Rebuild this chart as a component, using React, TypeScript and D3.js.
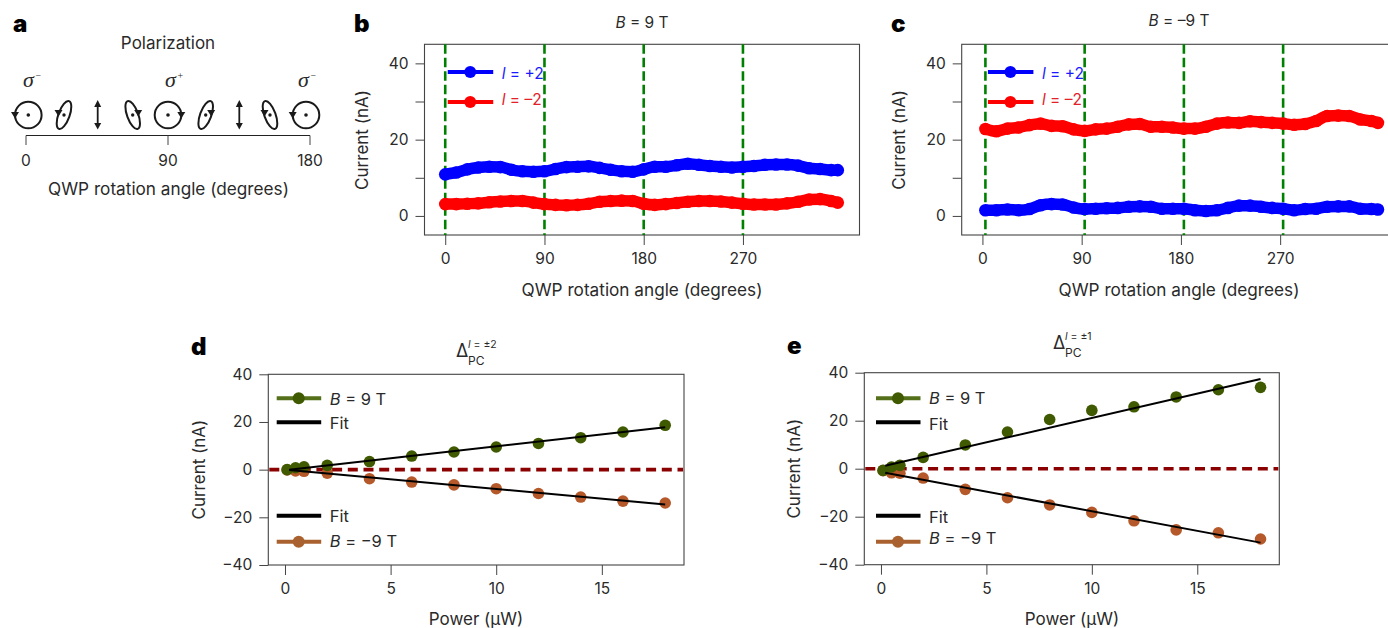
import React, { useEffect, useRef } from "react";
import * as d3 from "d3";

const FONT = "Inter, 'Noto Sans', sans-serif";
const INK = "#2a2a2a";

// Panels b, c: QWP sweep, read every 10 degrees from the picture
const sweepAngles = [0,10,20,30,40,50,60,70,80,90,100,110,120,130,140,150,160,170,180,190,200,210,220,230,240,250,260,270,280,290,300,310,320,330,340,350,356];
const bPlus = [10.9,11.4,12.2,12.7,12.9,12.8,12.1,11.7,11.6,11.7,12.3,12.8,12.9,13.0,12.6,12.1,11.7,11.6,12.2,12.9,12.9,13.3,13.7,13.4,13.1,12.9,12.7,12.9,13.1,13.4,13.5,13.5,13.2,12.5,12.3,12.0,12.0];
const bMinus = [3.1,3.1,3.2,3.3,3.6,3.8,3.9,3.9,3.5,3.1,2.9,2.8,2.9,3.2,3.7,3.9,4.0,3.9,3.2,2.9,3.1,3.4,3.7,3.9,3.9,3.8,3.5,3.2,3.0,3.0,3.0,3.3,3.7,4.3,4.4,3.9,3.5];
const cPlus = [1.5,1.5,1.7,1.5,1.8,2.8,3.1,3.0,2.2,1.8,1.9,2.0,2.1,2.4,2.5,2.4,1.9,1.9,1.9,1.5,1.3,1.5,2.1,2.7,2.7,2.4,2.1,1.9,1.5,1.8,1.9,2.4,2.5,2.5,1.9,1.8,1.7];
const cMinus = [22.8,22.2,22.9,23.2,23.8,24.2,23.6,23.5,22.7,22.3,22.7,22.9,23.4,24.0,24.1,23.4,23.4,23.2,22.9,22.9,23.4,24.2,24.5,24.4,24.8,24.6,24.4,24.2,23.9,24.1,24.9,26.2,26.3,26.2,25.3,24.9,24.4];
const angleTicks = [0, 90, 180, 270];
const sweepCurrentTicks = [0, 10, 20, 30, 40];
const sweepCurrentLabels = [0, 20, 40];
const bGuides = [0, 90, 180, 270];
const cGuides = [2.7, 92.7, 182.7, 272.7];

// Panels d, e: power dependence
const powers = [0.1,0.5,0.9,2,4,6,8,10,12,14,16,18];
const dUp = [0,0.8,1.2,1.8,3.4,5.7,7.4,9.5,11,13.4,15.8,18.6];
const dDown = [-0.1,-0.5,-0.7,-1.5,-3.8,-5.2,-6.4,-8,-10,-11.5,-13.2,-14];
const eUp = [-0.7,0.7,1.4,4.7,9.9,15.3,20.5,24.3,25.8,29.9,32.9,33.9];
const eDown = [-0.8,-1.7,-1.9,-3.9,-8.6,-12.1,-15.1,-18.2,-21.7,-25.5,-26.7,-29.3];
const fitPowers = [0.2, 18];
const dFitUp = [0, 17.8];
const dFitDown = [-0.1, -14.6];
const eFitUp = [1.2, 37.4];
const eFitDown = [-1.7, -30.8];
const powerTicks = [0, 5, 10, 15];
const powerCurrentTicks = [-40, -20, 0, 20, 40];

// Panel a
const polarAxisTicks = [0, 90, 180];
const polarIcons = [
  { x: 28.3, kind: "circle", side: -1 },
  { x: 64, kind: "ellipse", tilt: 20, side: -1 },
  { x: 97.7, kind: "linear" },
  { x: 132.7, kind: "ellipse", tilt: -20, side: 1 },
  { x: 168, kind: "circle", side: 1 },
  { x: 205.7, kind: "ellipse", tilt: 20, side: 1 },
  { x: 239.3, kind: "linear" },
  { x: 270, kind: "ellipse", tilt: -20, side: -1 },
  { x: 306, kind: "circle", side: -1 },
];
const sigmaLabels = [
  { x: 23, sup: "−" },
  { x: 165, sup: "+" },
  { x: 298, sup: "−" },
];

const BLUE = "#0000ff", RED = "#ff0000", GUIDE = "#008000", ZERO = "#8b0000";
const OLIVE = "#3f5a00", OLIVE_L = "#55701a", BROWN = "#b5592a", BROWN_L = "#a9622f";

type Sel = d3.Selection<any, any, any, any>;

function txt(g: Sel, x: number, y: number, s: string, size = 15, anchor = "middle", fill = INK) {
  return g.append("text").attr("x", x).attr("y", y).attr("font-family", FONT).attr("font-size", size)
    .attr("text-anchor", anchor).attr("fill", fill).text(s);
}
function rich(g: Sel, x: number, y: number, ital: string, rest: string, size = 15, anchor = "start", fill = INK) {
  const t = g.append("text").attr("x", x).attr("y", y).attr("font-family", FONT).attr("font-size", size)
    .attr("text-anchor", anchor).attr("fill", fill);
  t.append("tspan").attr("font-style", "italic").text(ital);
  t.append("tspan").text(rest);
  return t;
}
function frame(g: Sel, l: number, t: number, r: number, b: number) {
  g.append("rect").attr("x", l).attr("y", t).attr("width", r - l).attr("height", b - t)
    .attr("fill", "none").attr("stroke", "#444").attr("stroke-width", 1.1);
}
function axes(g: Sel, x: any, y: any, xt: number[], yt: number[], yLabels: number[], bottom: number, left: number) {
  const xa = d3.axisBottom(x).tickValues(xt).tickSize(10).tickPadding(8).tickFormat(d3.format("d") as any);
  const ya = d3.axisLeft(y).tickValues(yt).tickSize(9).tickPadding(7)
    .tickFormat((d: any) => (yLabels.includes(d) ? String(d).replace("-", "−") : ""));
  for (const [a, tr] of [[xa, `translate(0,${bottom})`], [ya, `translate(${left},0)`]] as any) {
    const ag = g.append("g").attr("transform", tr).call(a);
    ag.select(".domain").remove();
    ag.selectAll("line").attr("stroke", "#444").attr("stroke-width", 1);
    ag.selectAll("text").attr("font-family", FONT).attr("font-size", 15.5).attr("fill", INK);
  }
}
function legendLine(g: Sel, x0: number, x1: number, y: number, color: string, mx?: number, mColor?: string) {
  g.append("line").attr("x1", x0).attr("x2", x1).attr("y1", y).attr("y2", y).attr("stroke", color).attr("stroke-width", 4);
  if (mx !== undefined) g.append("circle").attr("cx", mx).attr("cy", y).attr("r", 6).attr("fill", mColor || color);
}

function sweepPanel(svg: Sel, o: any) {
  const g = svg.append("g");
  const x = d3.scaleLinear().domain([-18.8, 375.7]).range([o.left, o.left + 435]);
  const y = d3.scaleLinear().domain([-5, 45]).range([235, 44.3]);
  const dataX = (d: number) => x(d + o.offset);
  frame(g, o.left, 44.3, o.left + 435, 235);
  axes(g, x, y, angleTicks, sweepCurrentTicks, sweepCurrentLabels, 235, o.left);
  o.guides.forEach((a: number) => {
    g.append("line").attr("x1", x(a)).attr("x2", x(a)).attr("y1", 44.3).attr("y2", 235)
      .attr("stroke", GUIDE).attr("stroke-width", 2.6).attr("stroke-dasharray", "9.5,4");
  });
  const line = d3.line<number>().x((_, i) => dataX(sweepAngles[i])).y((v) => y(v)).curve(d3.curveMonotoneX);
  [[o.plus, BLUE], [o.minus, RED]].forEach(([vals, c]: any) => {
    g.append("path").attr("d", line(vals)).attr("fill", "none").attr("stroke", c).attr("stroke-width", 11.5);
    g.selectAll(null).data(vals).enter().append("circle")
      .attr("cx", (_: any, i: number) => dataX(sweepAngles[i])).attr("cy", (v: any) => y(v)).attr("r", 6.3).attr("fill", c);
  });
  const lx = x(o.guides[0]);
  legendLine(g, lx + 2.5, lx + 48, 72, BLUE, lx + 25, BLUE);
  legendLine(g, lx + 2.5, lx + 48, 102, RED, lx + 25, RED);
  rich(g, lx + 56.5, 78.5, "l", " = +2", 15.5, "start", "#1a1aff");
  rich(g, lx + 56.5, 105, "l", " = –2", 15.5, "start", "#e3202a");
  txt(g, o.cx, 296, "QWP rotation angle (degrees)", 17.2);
  txt(g, o.left - 62, 140, "Current (nA)", 17).attr("transform", `rotate(-90 ${o.left - 62} 140) translate(0,5.5)`);
  rich(g, o.cx, o.titleY, "B", o.title, 15.5, "middle");
}

function powerPanel(svg: Sel, o: any) {
  const g = svg.append("g");
  const x = d3.scaleLinear().domain([-0.79, 18.89]).range([o.left, o.right]);
  const y = d3.scaleLinear().domain([-40, 40]).range([o.bottom, o.top]);
  frame(g, o.left, o.top, o.right, o.bottom);
  axes(g, x, y, powerTicks, powerCurrentTicks, powerCurrentTicks, o.bottom, o.left);
  g.append("line").attr("x1", o.left + 1).attr("x2", o.right - 1).attr("y1", y(0)).attr("y2", y(0))
    .attr("stroke", ZERO).attr("stroke-width", 3.6).attr("stroke-dasharray", "10,5.7");
  [[o.down, BROWN], [o.up, OLIVE]].forEach(([vals, c]: any) => {
    g.selectAll(null).data(vals).enter().append("circle")
      .attr("cx", (_: any, i: number) => x(powers[i])).attr("cy", (v: any) => y(v)).attr("r", 5.8).attr("fill", c);
  });
  const fit = d3.line<number>().x((_, i) => x(fitPowers[i])).y((v) => y(v));
  [o.fitUp, o.fitDown].forEach((vals: number[]) => {
    g.append("path").attr("d", fit(vals)).attr("fill", "none").attr("stroke", "#000").attr("stroke-width", 2);
  });
  const a = o.lx, b = a + 44.5, m = a + 22;
  const tx = a + 53;
  legendLine(g, a, b, 398.3, OLIVE_L, m, OLIVE);
  legendLine(g, a, b, 422.3, "#000");
  legendLine(g, a, b, 515.7, "#000");
  legendLine(g, a, b, 541.8, BROWN_L, m, BROWN_L);
  rich(g, tx, o.t1, "B", " = 9 T", 16.5);
  txt(g, tx, o.t2, "Fit", 16.5, "start");
  txt(g, tx, o.t3, "Fit", 16.5, "start");
  rich(g, tx, o.t4, "B", " = −9 T", 16.5);
  txt(g, o.cx, 625, "Power (µW)", 17);
  const ly = (o.top + o.bottom) / 2;
  txt(g, o.yLabelX, ly, "Current (nA)", 17).attr("transform", `rotate(-90 ${o.yLabelX} ${ly}) translate(0,5.5)`);
  txt(g, o.dx, o.dy, "Δ", 18, "start");
  rich(g, o.dx + 12, o.dy - 9, "l", o.sup, 10.5);
  txt(g, o.dx + 12, o.dy + 8, "PC", 12, "start");
}

function polarPanel(svg: Sel) {
  const g = svg.append("g");
  const x = d3.scaleLinear().domain([0, 180]).range([26, 310]);
  g.append("line").attr("x1", x(0)).attr("x2", x(180)).attr("y1", 135.5).attr("y2", 135.5).attr("stroke", "#222").attr("stroke-width", 1);
  polarAxisTicks.forEach((t) => {
    g.append("line").attr("x1", x(t)).attr("x2", x(t)).attr("y1", 135.5).attr("y2", 145).attr("stroke", "#444").attr("stroke-width", 1);
    txt(g, x(t), 165.5, String(t), 15.5);
  });
  txt(g, 168, 49, "Polarization", 17);
  txt(g, 168.5, 195, "QWP rotation angle (degrees)", 17.2);
  sigmaLabels.forEach((s) => {
    g.append("text").attr("x", s.x).attr("y", 87).attr("font-family", "'Liberation Serif', serif").attr("font-style", "italic")
      .attr("font-size", 22).attr("fill", INK).text("σ");
    g.append("text").attr("x", s.x + 12.5).attr("y", 79).attr("font-family", "'Liberation Serif', serif")
      .attr("font-size", 10).attr("fill", INK).text(s.sup);
  });
  const cy = 115;
  const head = (px: number, py: number) => g.append("path")
    .attr("d", `M${px - 4},${py - 3}L${px + 4},${py - 3}L${px},${py + 3.5}Z`).attr("fill", "#1a1a1a");
  polarIcons.forEach((ic: any) => {
    if (ic.kind === "circle") {
      g.append("circle").attr("cx", ic.x).attr("cy", cy).attr("r", 13.3).attr("fill", "none").attr("stroke", "#1a1a1a").attr("stroke-width", 2);
      g.append("circle").attr("cx", ic.x).attr("cy", cy).attr("r", 1.8).attr("fill", "#1a1a1a");
      head(ic.x + ic.side * 13.3, cy);
    } else if (ic.kind === "ellipse") {
      g.append("ellipse").attr("cx", ic.x).attr("cy", cy).attr("rx", 5.6).attr("ry", 14.8)
        .attr("transform", `rotate(${ic.tilt} ${ic.x} ${cy})`).attr("fill", "none").attr("stroke", "#1a1a1a").attr("stroke-width", 2);
      g.append("circle").attr("cx", ic.x).attr("cy", cy).attr("r", 1.7).attr("fill", "#1a1a1a");
      head(ic.x + ic.side * 5.5, cy - 2);
    } else {
      g.append("line").attr("x1", ic.x).attr("x2", ic.x).attr("y1", cy - 11).attr("y2", cy + 11).attr("stroke", "#1a1a1a").attr("stroke-width", 1.8);
      g.append("path").attr("d", `M${ic.x - 3.5},${cy - 8}L${ic.x + 3.5},${cy - 8}L${ic.x},${cy - 15}Z`).attr("fill", "#1a1a1a");
      g.append("path").attr("d", `M${ic.x - 3.5},${cy + 8}L${ic.x + 3.5},${cy + 8}L${ic.x},${cy + 14.5}Z`).attr("fill", "#1a1a1a");
    }
  });
}

export default function App() {
  const ref = useRef<SVGSVGElement>(null);
  useEffect(() => {
    const svg = d3.select(ref.current);
    svg.selectAll("*").remove();
    polarPanel(svg);
    sweepPanel(svg, { left: 424.5, offset: 0, guides: bGuides, plus: bPlus, minus: bMinus, cx: 642, title: " = 9 T", titleY: 28 });
    sweepPanel(svg, { left: 961.7, offset: 2.7, guides: cGuides, plus: cPlus, minus: cMinus, cx: 1179, title: " = –9 T", titleY: 26 });
    powerPanel(svg, { left: 268.3, right: 684, top: 374.3, bottom: 565, lx: 276.7, up: dUp, down: dDown, fitUp: dFitUp, fitDown: dFitDown,
      t1: 405, t2: 429, t3: 522.3, t4: 547.3, cx: 476, yLabelX: 200, dx: 456, dy: 357, sup: " = ±2" });
    powerPanel(svg, { left: 864.3, right: 1279.3, top: 372.7, bottom: 564.7, lx: 876, up: eUp, down: eDown, fitUp: eFitUp, fitDown: eFitDown,
      t1: 404, t2: 430, t3: 523.3, t4: 543.7, cx: 1072, yLabelX: 795, dx: 1053, dy: 349, sup: " = ±1" });
    const marks = [["a", 13, 32], ["b", 354, 32], ["c", 891, 32], ["d", 191, 355], ["e", 787, 354]] as const;
    marks.forEach(([s, x, y]) => {
      svg.append("text").attr("x", x).attr("y", y).attr("font-family", FONT).attr("font-weight", 900)
        .attr("font-size", 24).attr("fill", "#000").text(s);
    });
  }, []);
  return <svg ref={ref} width={1388} height={628} style={{ position: "absolute", left: 0, top: 0, display: "block", background: "#fff" }} />;
}
